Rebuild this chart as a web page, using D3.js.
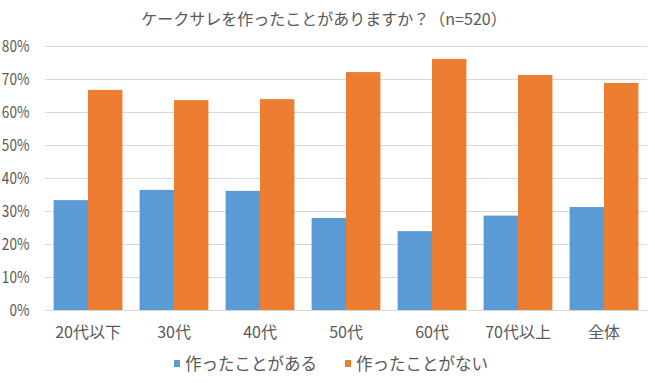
<!DOCTYPE html>
<html>
<head>
<meta charset="utf-8">
<script src="https://cdn.jsdelivr.net/npm/d3@7"></script>
<style>
  body { margin: 0; background: #fff; }
  text { font-family: "Noto Sans CJK JP", sans-serif; fill: #595959; }
</style>
</head>
<body>
<svg id="chart" width="655" height="383"></svg>
<script>
// data
const categories = ['20代以下', '30代', '40代', '50代', '60代', '70代以上', '全体']
const seriesNames = ['作ったことがある', '作ったことがない']
const madeIt = [33.3, 36.4, 36.1, 27.9, 23.9, 28.6, 31.2]
const neverMade = [66.7, 63.6, 63.9, 72.1, 76.1, 71.2, 68.8]
const yTicks = [0, 10, 20, 30, 40, 50, 60, 70, 80]
const colors = ['#5B9BD5', '#ED7D31']
const title = 'ケークサレを作ったことがありますか？（n=520）'

const svg = d3.select('#chart')
const margin = { left: 45, right: 8, top: 46, bottom: 73 }
const width = 655, height = 383

const x = d3.scaleBand()
    .domain(categories)
    .range([margin.left, width - margin.right])
    .paddingInner(0.2)
    .paddingOuter(0.1)

const x1 = d3.scaleBand()
    .domain(seriesNames)
    .range([0, x.bandwidth()])

const y = d3.scaleLinear()
    .domain([0, 80])
    .range([height - margin.bottom, margin.top])

// gridlines
svg.append('g')
    .selectAll('line')
    .data(yTicks)
    .join('line')
    .attr('x1', margin.left)
    .attr('x2', width - margin.right)
    .attr('y1', d => Math.round(y(d)) + 0.5)
    .attr('y2', d => Math.round(y(d)) + 0.5)
    .attr('stroke', '#D9D9D9')
    .attr('stroke-width', 1)

// y axis labels
const yAxis = svg.append('g')
    .attr('transform', `translate(${margin.left - 13},0)`)
    .call(d3.axisLeft(y).tickValues(yTicks).tickFormat(d => d + '%').tickSize(0))
yAxis.select('.domain').remove()
yAxis.selectAll('text')
    .style('font-size', '16px')
    .attr('fill', '#595959')
    .attr('transform', 'scale(0.85,1)')
    .attr('dx', '0')

// bars
const rows = categories.map((c, i) => ({ cat: c, vals: [madeIt[i], neverMade[i]] }))
const groups = svg.append('g')
    .selectAll('g')
    .data(rows)
    .join('g')
    .attr('transform', d => `translate(${x(d.cat)},0)`)

groups.selectAll('rect')
    .data(d => d.vals.map((v, j) => ({ name: seriesNames[j], v: v, j: j })))
    .join('rect')
    .attr('x', d => x1(d.name))
    .attr('width', x1.bandwidth())
    .attr('y', d => y(d.v))
    .attr('height', d => y(0) - y(d.v))
    .attr('fill', d => colors[d.j])

// x axis labels
const xAxis = svg.append('g')
    .attr('transform', `translate(0,${height - margin.bottom + 14})`)
    .call(d3.axisBottom(x).tickSize(0))
xAxis.select('.domain').remove()
xAxis.selectAll('text')
    .style('font-size', '16px')
    .attr('fill', '#595959')

// title
svg.append('text')
    .attr('x', 324)
    .attr('y', 25)
    .attr('text-anchor', 'middle')
    .style('font-size', '16px')
    .text(title)

// legend
const legendX = [174, 345]
const legend = svg.append('g')
    .selectAll('g')
    .data(seriesNames)
    .join('g')
    .attr('transform', (d, i) => `translate(${legendX[i]},360)`)
legend.append('rect')
    .attr('width', 6)
    .attr('height', 7)
    .attr('fill', (d, i) => colors[i])
legend.append('text')
    .attr('x', 11)
    .attr('y', 10)
    .style('font-size', '16.5px')
    .text(d => d)
</script>
</body>
</html>
